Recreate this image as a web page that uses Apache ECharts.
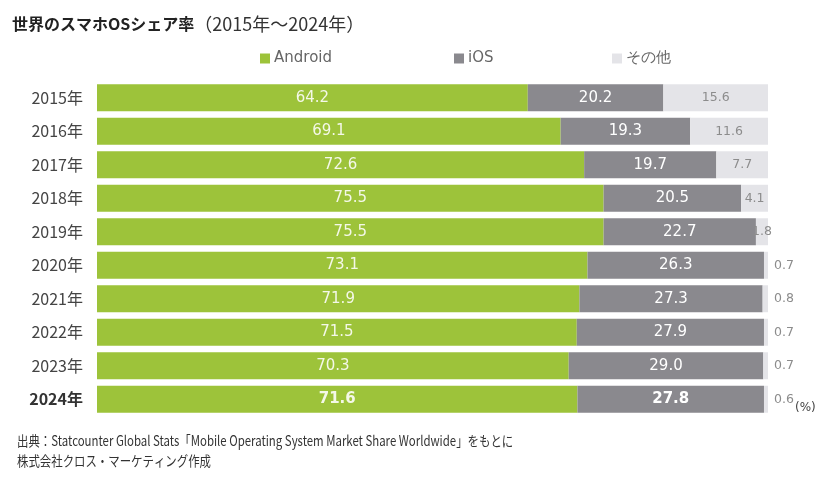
<!DOCTYPE html>
<html>
<head>
<meta charset="utf-8">
<script src="https://cdn.jsdelivr.net/npm/echarts@6/dist/echarts.min.js"></script>
<style>
  html, body { margin: 0; padding: 0; background: #fff; }
  #main { width: 829px; height: 481px; }
</style>
</head>
<body>
<div id="main"></div>
<script>
var years = ['2015年', '2016年', '2017年', '2018年', '2019年', '2020年', '2021年', '2022年', '2023年', '2024年'];
var android = [64.2, 69.1, 72.6, 75.5, 75.5, 73.1, 71.9, 71.5, 70.3, 71.6];
var ios = [20.2, 19.3, 19.7, 20.5, 22.7, 26.3, 27.3, 27.9, 29.0, 27.8];
var other = [15.6, 11.6, 7.7, 4.1, 1.8, 0.7, 0.8, 0.7, 0.7, 0.6];
var seriesNames = ['Android', 'iOS', 'その他'];

var jp = '"Noto Sans CJK JP", sans-serif';
var num = '"DejaVu Sans", sans-serif';
var last = years.length - 1;

function boldLast(arr) {
  return arr.map(function (v, i) {
    if (i === last) return { value: v, label: { fontWeight: 'bold' } };
    return v;
  });
}

// one legend per item so each can sit where the reference puts it
var legendLeft = [255, 449, 607];
var legends = seriesNames.map(function (n, i) {
  return {
    top: 46,
    left: legendLeft[i],
    itemWidth: 10,
    itemHeight: 10,
    itemGap: 0,
    icon: 'rect',
    textStyle: { fontFamily: num, fontSize: 15, color: '#666', padding: [0, 0, 0, -1] },
    data: [n]
  };
});

var chart = echarts.init(document.getElementById('main'));
chart.setOption({
  animation: false,
  title: {
    text: '{b|世界のスマホOSシェア率}{n|（2015年～2024年）}',
    left: 7,
    top: 10,
    textStyle: {
      fontWeight: 'normal',
      rich: {
        b: { fontFamily: jp, fontSize: 16, fontWeight: 'bold', color: '#222' },
        n: { fontFamily: jp, fontSize: 18, fontWeight: 'normal', color: '#333' }
      }
    }
  },
  legend: legends,
  grid: { left: 97, right: 61, top: 81, bottom: 65 },
  xAxis: {
    type: 'value',
    min: 0,
    max: 100,
    show: false
  },
  yAxis: {
    type: 'category',
    inverse: true,
    data: years,
    axisLine: { show: false },
    axisTick: { show: false },
    axisLabel: {
      margin: 14,
      fontFamily: jp,
      fontSize: 16,
      color: '#444',
      formatter: function (v, i) {
        return i === last ? '{b|' + v + '}' : v;
      },
      rich: { b: { fontFamily: jp, fontSize: 16, fontWeight: 'bold', color: '#333' } }
    }
  },
  series: [
    {
      name: 'Android',
      type: 'bar',
      stack: 'total',
      barWidth: 27,
      itemStyle: { color: '#9dc33a' },
      label: { show: true, position: 'inside', color: '#f4f8e8', fontFamily: num, fontSize: 15,
        formatter: function (p) { return p.value.toFixed(1); } },
      data: boldLast(android)
    },
    {
      name: 'iOS',
      type: 'bar',
      stack: 'total',
      itemStyle: { color: '#8a898e' },
      label: { show: true, position: 'inside', color: '#fff', fontFamily: num, fontSize: 15,
        formatter: function (p) { return p.value.toFixed(1); } },
      data: boldLast(ios)
    },
    {
      name: 'その他',
      type: 'bar',
      stack: 'total',
      itemStyle: { color: '#e4e4e8' },
      label: { show: true, color: '#8c8c8c', fontFamily: num, fontSize: 12.5,
        formatter: function (p) { return p.value.toFixed(1); } },
      data: other.map(function (v) {
        return v < 1.5
          ? { value: v, label: { position: 'right', distance: 6 } }
          : { value: v, label: { position: 'inside' } };
      })
    }
  ],
  graphic: [
    { type: 'text', left: 795, top: 402,
      style: { text: '(%)', font: '12px ' + num, fill: '#444' } },
    // the source uses a condensed face; squeeze the text horizontally
    { type: 'text', x: 17, y: 431, scaleX: 0.815,
      style: { text: '出典：Statcounter Global Stats「Mobile Operating System Market Share Worldwide」をもとに\n株式会社クロス・マーケティング作成',
        font: '14px ' + jp, fill: '#333', lineHeight: 20 } }
  ]
});
</script>
</body>
</html>
